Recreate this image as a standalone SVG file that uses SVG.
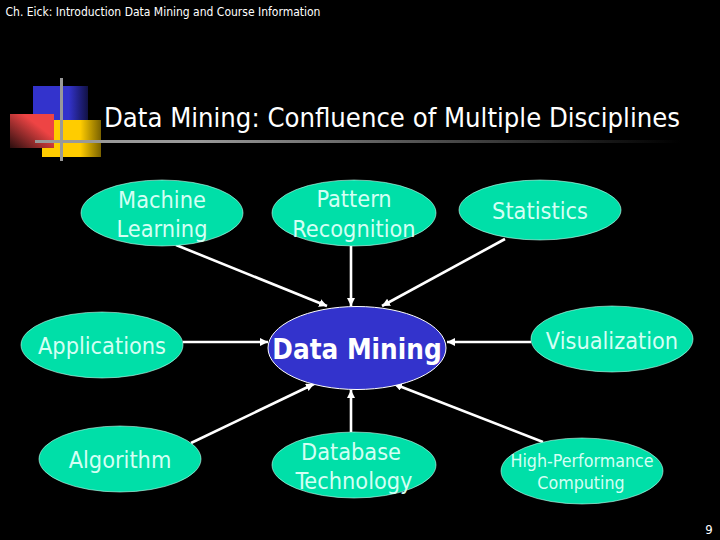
<svg xmlns="http://www.w3.org/2000/svg" width="720" height="540" viewBox="0 0 720 540">
<style>
text{font-family:"DejaVu Sans",Verdana,sans-serif;font-stretch:condensed;text-anchor:middle}
.n ellipse{fill:#00dfa8;stroke:#c8fff0;stroke-width:0.6}
.n text{fill:#d4fff4;font-size:23.3px}
.c line{stroke:#ffffff;stroke-width:2.6;marker-end:url(#a)}
.b{fill:#999999}
</style>
<defs>
<marker id="a" markerUnits="userSpaceOnUse" markerWidth="10" markerHeight="10" refX="8" refY="4" orient="auto"><path d="M0 0L8 4L0 8z" fill="#ffffff"/></marker>
<linearGradient id="gb"><stop offset="0.65" stop-color="#3333cc"/><stop offset="1" stop-color="#111144"/></linearGradient>
<linearGradient id="gy"><stop offset="0.65" stop-color="#ffcc00"/><stop offset="1" stop-color="#7a6200"/></linearGradient>
<linearGradient id="gr" x1="1" y1="0" x2="0" y2="1"><stop offset="0.35" stop-color="#ee4444"/><stop offset="1" stop-color="#2a0e0e"/></linearGradient>
<linearGradient id="gl" gradientUnits="userSpaceOnUse" x1="35" y1="0" x2="680" y2="0"><stop offset="0.25" stop-color="#999999"/><stop offset="1" stop-color="#000000"/></linearGradient>
</defs>
<rect width="720" height="540" fill="#000000"/>
<text x="163" y="16" style="font-size:12px" fill="#ffffff">Ch. Eick: Introduction Data Mining and Course Information</text>
<g id="logo">
<rect x="33" y="86" width="55" height="40" fill="url(#gb)"/>
<rect x="42" y="120" width="59" height="37" fill="url(#gy)"/>
<rect x="10" y="114" width="44" height="34" fill="url(#gr)"/>
<rect class="b" x="60" y="78" width="3" height="83"/>
<rect x="35" y="140" width="645" height="3" fill="url(#gl)"/>
</g>
<text x="392" y="127" style="font-size:27.2px" fill="#ffffff">Data Mining: Confluence of Multiple Disciplines</text>
<g class="c">
<line x1="176" y1="245" x2="327" y2="306"/>
<line x1="351" y1="246" x2="351" y2="306"/>
<line x1="505" y1="239" x2="382" y2="306"/>
<line x1="183" y1="342" x2="268" y2="342"/>
<line x1="531" y1="342" x2="447" y2="342"/>
<line x1="191" y1="443" x2="314" y2="384"/>
<line x1="351" y1="432" x2="351" y2="390"/>
<line x1="543" y1="442" x2="394" y2="384"/>
</g>
<g id="machine-learning" class="n"><ellipse cx="162" cy="213" rx="81" ry="33"/><text x="162" y="208">Machine</text><text x="162" y="237">Learning</text></g>
<g id="pattern-recognition" class="n"><ellipse cx="354" cy="213" rx="82" ry="33"/><text x="354" y="207">Pattern</text><text x="354" y="237">Recognition</text></g>
<g id="statistics" class="n"><ellipse cx="540" cy="210" rx="81" ry="30"/><text x="540" y="219">Statistics</text></g>
<g id="applications" class="n"><ellipse cx="102" cy="345" rx="81" ry="33"/><text x="102" y="354">Applications</text></g>
<g id="data-mining"><ellipse cx="357" cy="348" rx="89" ry="41.5" fill="#3333cc" stroke="#ffffff" stroke-width="1"/><text x="357" y="359" style="font-size:27.6px;font-weight:bold" fill="#ffffff">Data Mining</text></g>
<g id="visualization" class="n"><ellipse cx="612" cy="339" rx="81" ry="33"/><text x="612" y="349">Visualization</text></g>
<g id="algorithm" class="n"><ellipse cx="120" cy="459" rx="81" ry="33"/><text x="120" y="468">Algorithm</text></g>
<g id="database-technology" class="n"><ellipse cx="354" cy="465" rx="82" ry="33"/><text x="351" y="460">Database</text><text x="354" y="489">Technology</text></g>
<g id="high-performance-computing" class="n"><ellipse cx="582" cy="471" rx="81" ry="33"/><text x="582" y="467" style="font-size:17.7px">High-Performance</text><text x="581" y="489" style="font-size:17.7px">Computing</text></g>
<text x="709" y="534" style="font-size:13px" fill="#ffffff">9</text>
</svg>
